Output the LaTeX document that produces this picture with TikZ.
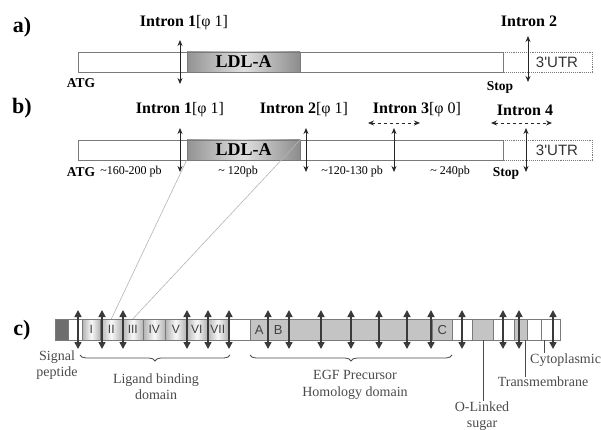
\documentclass[tikz,border=0pt]{standalone}
\usepackage{fontspec}
\setmainfont{Liberation Serif}
\setsansfont{Liberation Sans}[Ligatures=TeXOff]
\usetikzlibrary{arrows.meta,decorations.pathreplacing}
\definecolor{BarGray}{HTML}{7A7A7A}
\definecolor{DomainGray}{HTML}{C4C4C4}
\definecolor{SignalGray}{HTML}{6E6E6E}
\definecolor{ArrowGray}{HTML}{3A3A3A}
\definecolor{LinkGray}{HTML}{B4B4B4}
\definecolor{TextGray}{HTML}{4A4A4A}
\tikzset{
  exonbar/.style={draw=BarGray,line width=.9pt,fill=white},
  ldlbox/.style={draw=BarGray,line width=.9pt,left color=gray!85,right color=gray!90,middle color=gray!25,
    font=\fontsize{18}{20}\selectfont\bfseries,inner sep=0pt},
  utrbox/.style={draw=BarGray,line width=.9pt,densely dotted},
  intron/.style={{Stealth[length=6pt,width=5pt]}-{Stealth[length=6pt,width=5pt]},draw=black!85,line width=.8pt},
  shiftarrow/.style={intron,dashed},
  site/.style={{Triangle[length=7pt,width=7pt]}-{Triangle[length=7pt,width=7pt]},draw=ArrowGray,line width=1.5pt},
  seg/.style={draw=BarGray,line width=.6pt},
  repeatbox/.style={seg,left color=gray!60,right color=gray!60,middle color=gray!5,anchor=north west,
    minimum height=21pt,inner sep=0pt,font=\sffamily\fontsize{12}{14}\selectfont,text=black!75},
  egfbox/.style={seg,fill=DomainGray,anchor=north west,minimum height=21pt,inner sep=0pt,
    font=\sffamily\fontsize{13}{15}\selectfont,text=black!75},
  link/.style={draw=LinkGray,line width=.6pt},
  leader/.style={draw=TextGray,line width=.6pt},
  brace/.style={decorate,decoration={brace,amplitude=6pt,mirror},draw=TextGray,line width=.8pt},
  panellabel/.style={font=\fontsize{22}{24}\selectfont\bfseries,inner sep=0pt},
  intronlabel/.style={font=\fontsize{16}{18}\selectfont,inner sep=0pt},
  utrlabel/.style={font=\sffamily\fontsize{15}{17}\selectfont,text=black!80,inner sep=0pt},
  endlabel/.style={font=\fontsize{13.5}{15}\selectfont\bfseries,inner sep=0pt},
  sizelabel/.style={font=\fontsize{12}{14}\selectfont,inner sep=0pt},
  domainlabel/.style={font=\fontsize{14}{16}\selectfont,text=TextGray,align=center,inner sep=0pt}
}
\newcommand{\intronname}[2]{\textbf{Intron #1}[φ #2]}

\begin{document}
\begin{tikzpicture}[x=1pt,y=-1pt]
  \useasboundingbox (0,0) rectangle (601,430);
  % gene models a) and b)
  \foreach \dy/\p in {0/a,88/b}{
    \begin{scope}[shift={(0,\dy)}]
      \draw[exonbar] (78,52) rectangle (503,72);
      \draw[utrbox] (503,52) -- (592,52) -- (592,72) -- (503,72);
      \node[ldlbox,minimum width=113pt,minimum height=20pt] (ldl-\p) at (243.5,62) {LDL-A};
      \node[utrlabel] (utr-\p) at (557,62) {3'UTR};
      \draw[intron] (180,40) -- (180,84);
    \end{scope}
  }
  \node[panellabel] (pa) at (22,27) {a)};
  \node[intronlabel] (i1-a) at (184,23) {\intronname{1}{1}};
  \node[intronlabel] (i2-a) at (529,21) {\textbf{Intron 2}};
  \draw[intron] (528,36) -- (528,82);
  \node[endlabel] (atg-a) at (81,83) {ATG};
  \node[endlabel] (stop-a) at (500,87) {Stop};

  \node[panellabel] (pb) at (22,108) {b)};
  \node[intronlabel] (i1-b) at (180,110) {\intronname{1}{1}};
  \node[intronlabel] (i2-b) at (304,110) {\intronname{2}{1}};
  \node[intronlabel] (i3-b) at (417,110) {\intronname{3}{0}};
  \node[intronlabel] (i4-b) at (525,110) {\textbf{Intron 4}};
  \foreach \x in {306,394,526}
    \draw[intron] (\x,128) -- (\x,172);
  \draw[shiftarrow] (368,123) -- (420,123);
  \draw[shiftarrow] (491,123) -- (552,123);
  \node[endlabel] (atg-b) at (81,172) {ATG};
  \node[endlabel] (stop-b) at (506,173) {Stop};
  \foreach \x/\t in {131/\textasciitilde160-200 pb,238/\textasciitilde{} 120pb,352/\textasciitilde120-130 pb,450/\textasciitilde{} 240pb}
    \node[sizelabel] at (\x,172) {\t};

  % protein c)
  \node[panellabel] (pc) at (22,330) {c)};
  \draw[seg] (55,319) rectangle (560,340);
  \draw[seg,fill=SignalGray] (55,319) rectangle (68,340);
  \foreach \a/\b/\f in {68/82/white,228/250/white,452/472/white,472/493/DomainGray,493/514/white,514/527/DomainGray,527/541/white,541/560/white}
    \draw[seg,fill=\f] (\a,319) rectangle (\b,340);
  \foreach \x/\w/\t [count=\i] in {82/18/I,100/22/II,122/21/III,143/22/IV,165/21/V,186/21/VI,207/21/VII}
    \node[repeatbox,minimum width=\w pt] (rep-\i) at (\x,319) {\t};
  \draw[seg,fill=DomainGray] (250,319) rectangle (452,340);
  \foreach \x/\w/\t in {250/18/A,268/20/B,432/20/C}
    \node[egfbox,minimum width=\w pt] (egf-\t) at (\x,319) {\t};

  \draw[link] (ldl-b.south west) -- (rep-2.north);
  \draw[link] (ldl-b.north east) -- (rep-3.north);

  \foreach \x in {78,102,123,187,208,229,268,289,321,351,379,407,431,462,503,519,553}
    \draw[site] (\x,310) -- (\x,349);

  \draw[brace] (80,355) -- (230,355);
  \draw[brace] (250,355) -- (452,355);
  \node[domainlabel] (signal) at (57,365) {Signal\\peptide};
  \node[domainlabel] (ligand) at (156,387) {Ligand binding\\domain};
  \node[domainlabel] (egf) at (355,385) {EGF Precursor\\[1pt]Homology domain};
  \node[domainlabel] (olink) at (482,416) {O-Linked\\sugar};
  \node[domainlabel] (tm) at (543,382) {Transmembrane};
  \node[domainlabel,anchor=west] (cyto) at (530,360) {Cytoplasmic};
  \coordinate (olink-top) at (483,340);
  \coordinate (tm-top) at (525,340);
  \coordinate (cyto-top) at (544,340);
  \draw[leader] (olink-top) -- (olink-top |- olink.north);
  \draw[leader] (tm-top) -- (tm-top |- tm.north);
  \draw[leader] (cyto-top) -- (cyto-top |- cyto.north);
\end{tikzpicture}
\end{document}
